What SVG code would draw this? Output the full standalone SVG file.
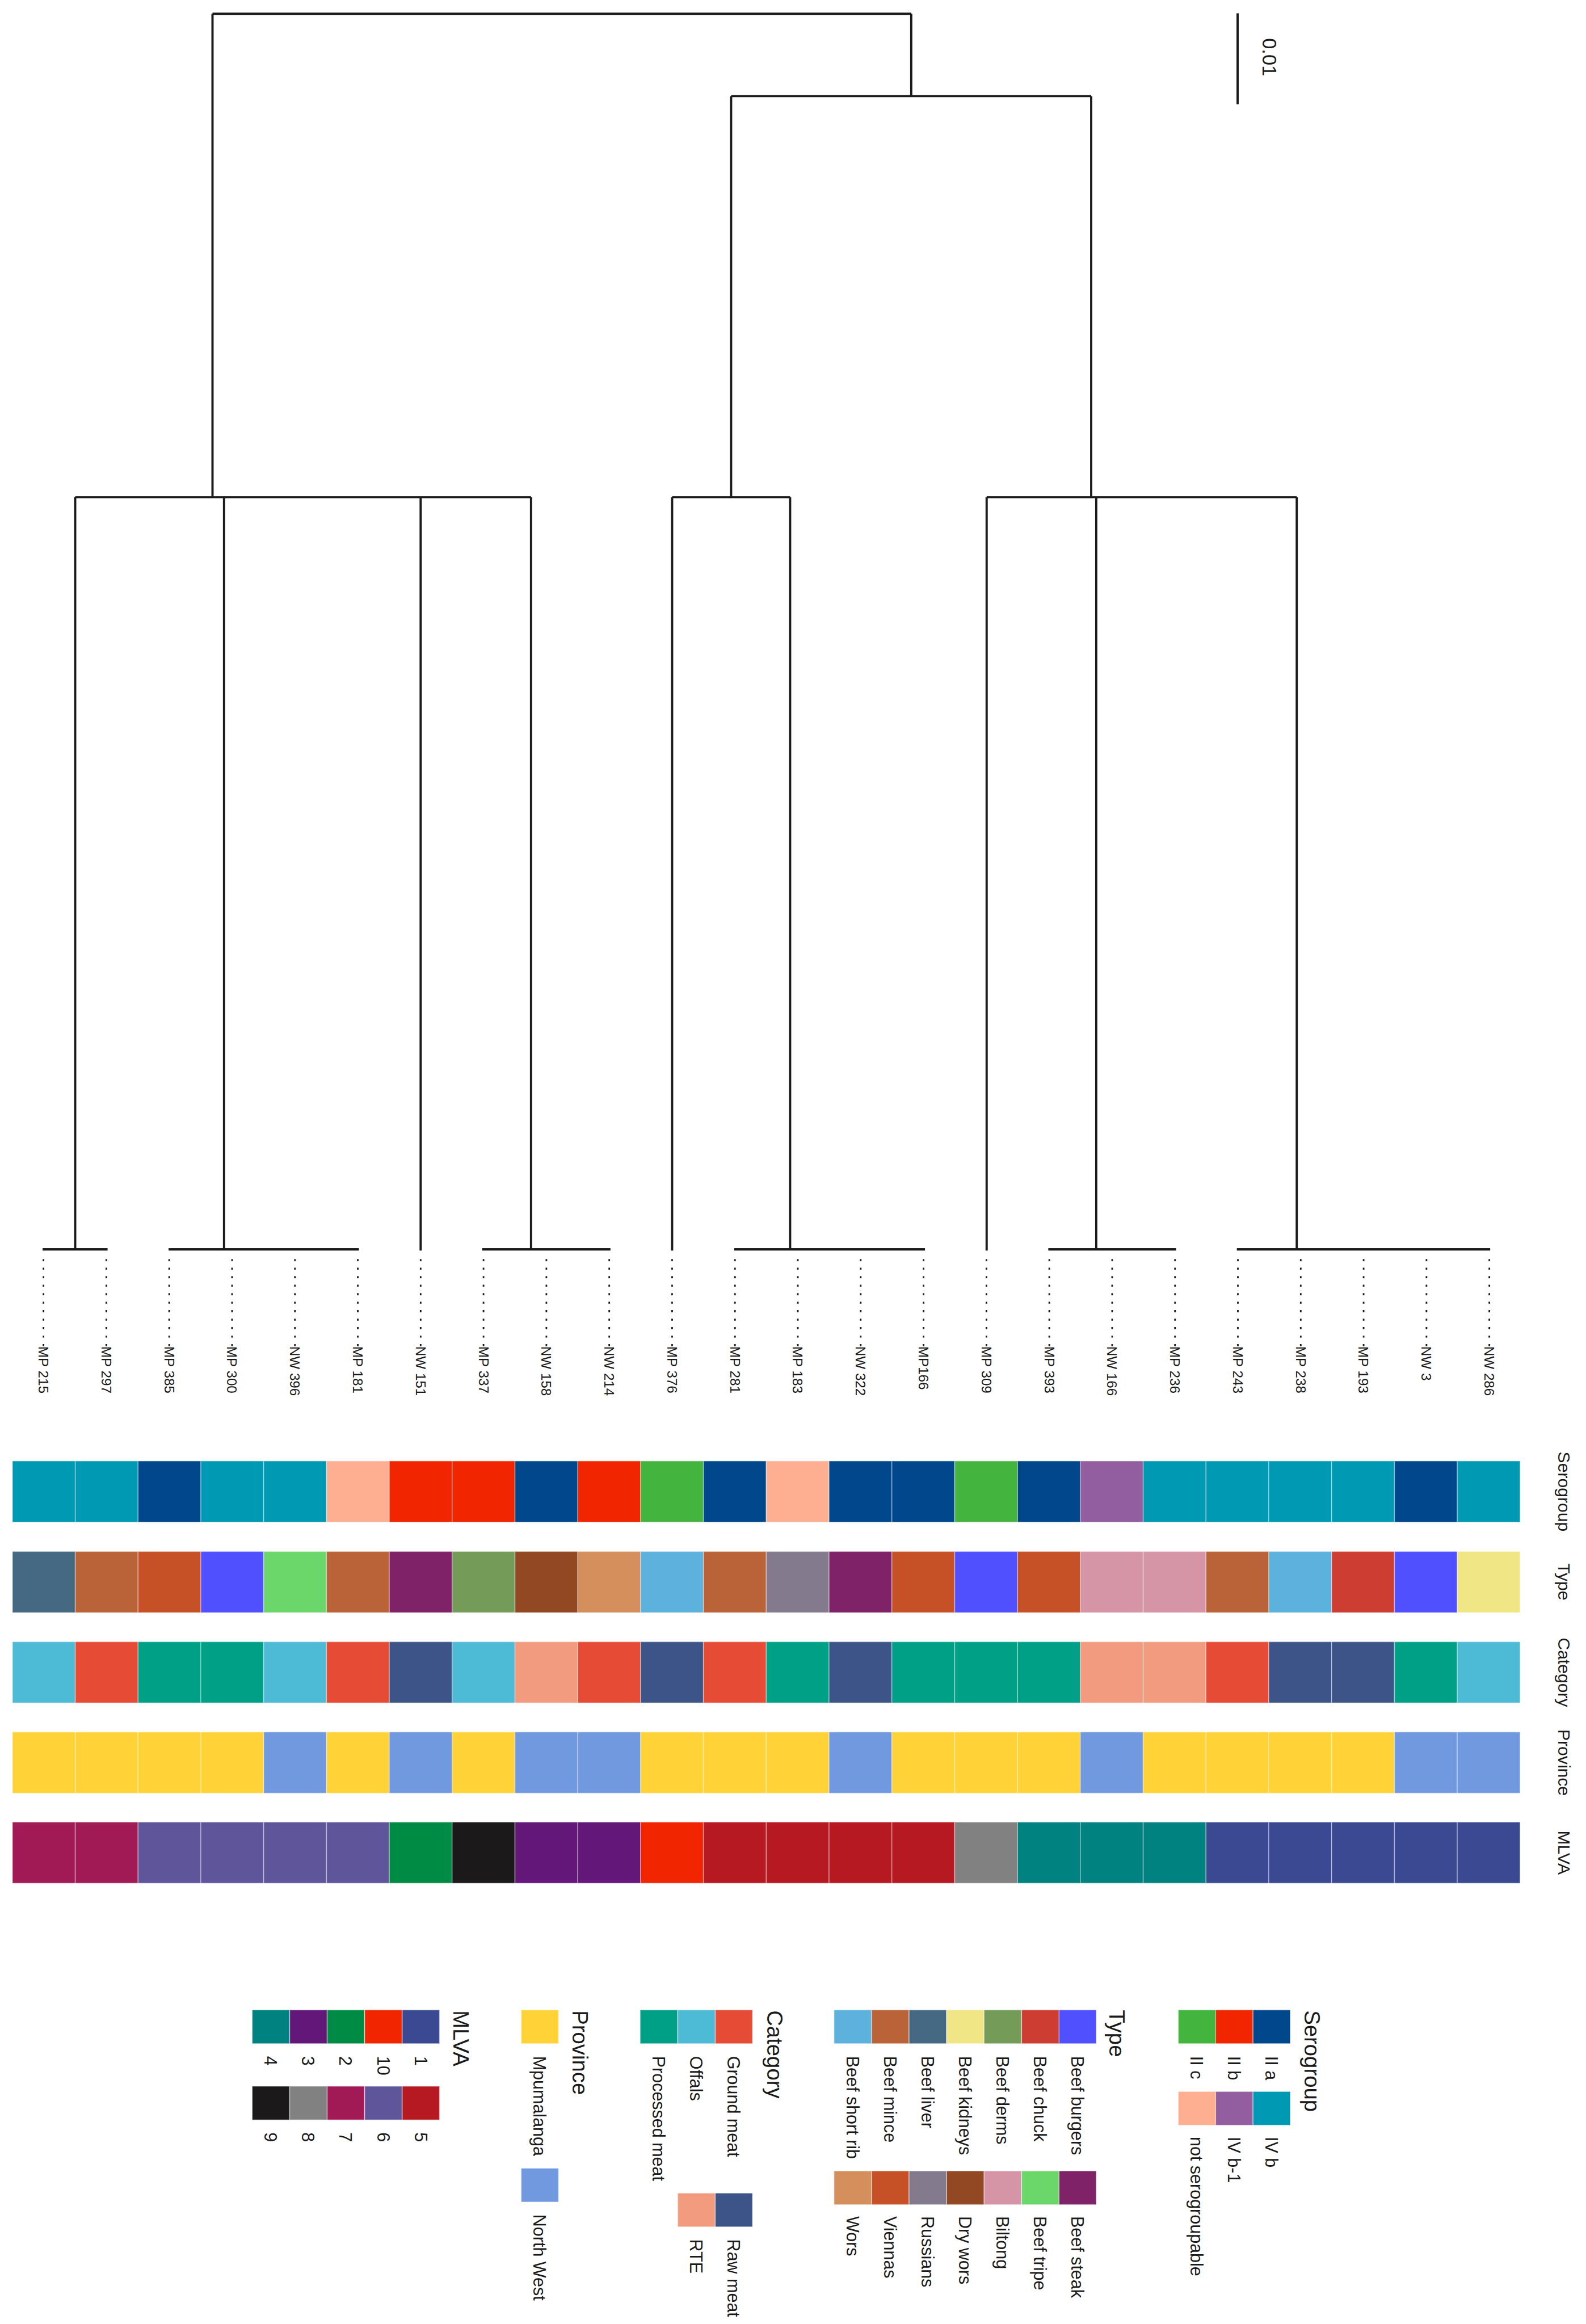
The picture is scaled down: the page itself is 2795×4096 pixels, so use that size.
<svg xmlns="http://www.w3.org/2000/svg" width="2795" height="4096" viewBox="0 0 2795 4096">
<style>
text{font-family:"Liberation Sans",Arial,sans-serif;fill:#1a1a1a}
.leaf{font-size:31px}
.row{font-size:38.5px;text-anchor:middle}
.lt{font-size:49px}
.ll{font-size:39px}
.e{fill:none;stroke:#1a1a1a;stroke-width:5}
.d{fill:none;stroke:#1a1a1a;stroke-width:3.6;stroke-dasharray:4.5 14.67}
.h rect{width:141.6px;height:138px;stroke:#fff;stroke-opacity:.4;stroke-width:2}
.s rect{width:84.2px;height:76px;stroke:#fff;stroke-opacity:.4;stroke-width:2}
.IIa{fill:#00478b}.IIb{fill:#f12500}.IIc{fill:#43b53f}.IVb{fill:#0099b4}.IVb1{fill:#925e9f}.NS{fill:#feaf92}
.burg{fill:#5050ff}.chuck{fill:#ce3d32}.derms{fill:#749b58}.kid{fill:#f0e685}.liver{fill:#466983}.mince{fill:#ba6338}.rib{fill:#5db1dd}.steak{fill:#802268}.tripe{fill:#6bd76b}.bil{fill:#d595a7}.dry{fill:#924822}.rus{fill:#837b8d}.vie{fill:#c75127}.wors{fill:#d58f5c}
.gro{fill:#e64b35}.off{fill:#4dbbd5}.pro{fill:#00a087}.raw{fill:#3c5488}.rte{fill:#f39b7f}
.mp{fill:#ffd337}.nw{fill:#7099df}
.m1{fill:#3b4992}.m2{fill:#008b45}.m3{fill:#631879}.m4{fill:#008280}.m5{fill:#b71922}.m6{fill:#5f559b}.m7{fill:#a21a55}.m8{fill:#808180}.m9{fill:#1b1919}.m10{fill:#f12500}
</style>
<g transform="scale(0.78182)">
<g id="connectors">
<path class="e" d="M479 31H2054M479 31V1120.7M2054 31V216.7M1648 216.7H2459.7M1648 216.7V1120.7M2459.7 216.7V1120.7"/>
<path class="e" d="M169.5 1120.7H1197M169.5 1120.7V2817M505 1120.7V2817M948.2 1120.7V2819M1197 1120.7V2817"/>
<path class="e" d="M1515 1120.7H1781M1515 1120.7V2819M1781 1120.7V2817"/>
<path class="e" d="M2224 1120.7H2923M2224 1120.7V2819M2471 1120.7V2817M2923 1120.7V2817"/>
<path class="e" d="M96 2816.5H242.5M380 2816.5H809M1087 2816.5H1376M1655 2816.5H2085M2363 2816.5H2651M2788 2816.5H3359"/>
<path class="d" d="M98 2838.5V3036M239.7 2838.5V3036M381.4 2838.5V3036M523.1 2838.5V3036M664.8 2838.5V3036M806.5 2838.5V3036M948.2 2838.5V3036M1089.9 2838.5V3036M1231.6 2838.5V3036M1373.3 2838.5V3036M1515 2838.5V3036M1656.7 2838.5V3036M1798.4 2838.5V3036M1940.1 2838.5V3036M2081.8 2838.5V3036M2223.5 2838.5V3036M2365.2 2838.5V3036M2506.9 2838.5V3036M2648.6 2838.5V3036M2790.3 2838.5V3036M2932 2838.5V3036M3073.7 2838.5V3036M3215.4 2838.5V3036M3357.1 2838.5V3036"/>
</g>
<g id="scale-bar">
<path class="e" d="M2789.7 30V235"/>
<text x="2846" y="86" font-size="44" transform="rotate(90 2846 86)">0.01</text>
</g>
<g id="leaves" class="leaf">
<g id="leaf-MP215"><text class="leaf" x="87" y="3035" transform="rotate(90 87 3035)">MP 215</text></g>
<g id="leaf-MP297"><text class="leaf" x="228.7" y="3035" transform="rotate(90 228.7 3035)">MP 297</text></g>
<g id="leaf-MP385"><text class="leaf" x="370.4" y="3035" transform="rotate(90 370.4 3035)">MP 385</text></g>
<g id="leaf-MP300"><text class="leaf" x="512.1" y="3035" transform="rotate(90 512.1 3035)">MP 300</text></g>
<g id="leaf-NW396"><text class="leaf" x="653.8" y="3035" transform="rotate(90 653.8 3035)">NW 396</text></g>
<g id="leaf-MP181"><text class="leaf" x="795.5" y="3035" transform="rotate(90 795.5 3035)">MP 181</text></g>
<g id="leaf-NW151"><text class="leaf" x="937.2" y="3035" transform="rotate(90 937.2 3035)">NW 151</text></g>
<g id="leaf-MP337"><text class="leaf" x="1078.9" y="3035" transform="rotate(90 1078.9 3035)">MP 337</text></g>
<g id="leaf-NW158"><text class="leaf" x="1220.6" y="3035" transform="rotate(90 1220.6 3035)">NW 158</text></g>
<g id="leaf-NW214"><text class="leaf" x="1362.3" y="3035" transform="rotate(90 1362.3 3035)">NW 214</text></g>
<g id="leaf-MP376"><text class="leaf" x="1504" y="3035" transform="rotate(90 1504 3035)">MP 376</text></g>
<g id="leaf-MP281"><text class="leaf" x="1645.7" y="3035" transform="rotate(90 1645.7 3035)">MP 281</text></g>
<g id="leaf-MP183"><text class="leaf" x="1787.4" y="3035" transform="rotate(90 1787.4 3035)">MP 183</text></g>
<g id="leaf-NW322"><text class="leaf" x="1929.1" y="3035" transform="rotate(90 1929.1 3035)">NW 322</text></g>
<g id="leaf-MP166"><text class="leaf" x="2070.8" y="3035" transform="rotate(90 2070.8 3035)">MP166</text></g>
<g id="leaf-MP309"><text class="leaf" x="2212.5" y="3035" transform="rotate(90 2212.5 3035)">MP 309</text></g>
<g id="leaf-MP393"><text class="leaf" x="2354.2" y="3035" transform="rotate(90 2354.2 3035)">MP 393</text></g>
<g id="leaf-NW166"><text class="leaf" x="2495.9" y="3035" transform="rotate(90 2495.9 3035)">NW 166</text></g>
<g id="leaf-MP236"><text class="leaf" x="2637.6" y="3035" transform="rotate(90 2637.6 3035)">MP 236</text></g>
<g id="leaf-MP243"><text class="leaf" x="2779.3" y="3035" transform="rotate(90 2779.3 3035)">MP 243</text></g>
<g id="leaf-MP238"><text class="leaf" x="2921" y="3035" transform="rotate(90 2921 3035)">MP 238</text></g>
<g id="leaf-MP193"><text class="leaf" x="3062.7" y="3035" transform="rotate(90 3062.7 3035)">MP 193</text></g>
<g id="leaf-NW3"><text class="leaf" x="3204.4" y="3035" transform="rotate(90 3204.4 3035)">NW 3</text></g>
<g id="leaf-NW286"><text class="leaf" x="3346.1" y="3035" transform="rotate(90 3346.1 3035)">NW 286</text></g>
</g>
<g id="row-serogroup" class="h">
<rect class="IVb" x="28" y="3293.5"/><rect class="IVb" x="169.6" y="3293.5"/><rect class="IIa" x="311.2" y="3293.5"/><rect class="IVb" x="452.8" y="3293.5"/><rect class="IVb" x="594.4" y="3293.5"/><rect class="NS" x="736" y="3293.5"/><rect class="IIb" x="877.6" y="3293.5"/><rect class="IIb" x="1019.2" y="3293.5"/><rect class="IIa" x="1160.8" y="3293.5"/><rect class="IIb" x="1302.4" y="3293.5"/><rect class="IIc" x="1444" y="3293.5"/><rect class="IIa" x="1585.6" y="3293.5"/><rect class="NS" x="1727.2" y="3293.5"/><rect class="IIa" x="1868.8" y="3293.5"/><rect class="IIa" x="2010.4" y="3293.5"/><rect class="IIc" x="2152" y="3293.5"/><rect class="IIa" x="2293.6" y="3293.5"/><rect class="IVb1" x="2435.2" y="3293.5"/><rect class="IVb" x="2576.8" y="3293.5"/><rect class="IVb" x="2718.4" y="3293.5"/><rect class="IVb" x="2860" y="3293.5"/><rect class="IVb" x="3001.6" y="3293.5"/><rect class="IIa" x="3143.2" y="3293.5"/><rect class="IVb" x="3284.8" y="3293.5"/>
<text class="row" x="3512" y="3362.5" transform="rotate(90 3512 3362.5)">Serogroup</text>
</g>
<g id="row-type" class="h">
<rect class="liver" x="28" y="3497.5"/><rect class="mince" x="169.6" y="3497.5"/><rect class="vie" x="311.2" y="3497.5"/><rect class="burg" x="452.8" y="3497.5"/><rect class="tripe" x="594.4" y="3497.5"/><rect class="mince" x="736" y="3497.5"/><rect class="steak" x="877.6" y="3497.5"/><rect class="derms" x="1019.2" y="3497.5"/><rect class="dry" x="1160.8" y="3497.5"/><rect class="wors" x="1302.4" y="3497.5"/><rect class="rib" x="1444" y="3497.5"/><rect class="mince" x="1585.6" y="3497.5"/><rect class="rus" x="1727.2" y="3497.5"/><rect class="steak" x="1868.8" y="3497.5"/><rect class="vie" x="2010.4" y="3497.5"/><rect class="burg" x="2152" y="3497.5"/><rect class="vie" x="2293.6" y="3497.5"/><rect class="bil" x="2435.2" y="3497.5"/><rect class="bil" x="2576.8" y="3497.5"/><rect class="mince" x="2718.4" y="3497.5"/><rect class="rib" x="2860" y="3497.5"/><rect class="chuck" x="3001.6" y="3497.5"/><rect class="burg" x="3143.2" y="3497.5"/><rect class="kid" x="3284.8" y="3497.5"/>
<text class="row" x="3512" y="3566" transform="rotate(90 3512 3566)">Type</text>
</g>
<g id="row-category" class="h">
<rect class="off" x="28" y="3701"/><rect class="gro" x="169.6" y="3701"/><rect class="pro" x="311.2" y="3701"/><rect class="pro" x="452.8" y="3701"/><rect class="off" x="594.4" y="3701"/><rect class="gro" x="736" y="3701"/><rect class="raw" x="877.6" y="3701"/><rect class="off" x="1019.2" y="3701"/><rect class="rte" x="1160.8" y="3701"/><rect class="gro" x="1302.4" y="3701"/><rect class="raw" x="1444" y="3701"/><rect class="gro" x="1585.6" y="3701"/><rect class="pro" x="1727.2" y="3701"/><rect class="raw" x="1868.8" y="3701"/><rect class="pro" x="2010.4" y="3701"/><rect class="pro" x="2152" y="3701"/><rect class="pro" x="2293.6" y="3701"/><rect class="rte" x="2435.2" y="3701"/><rect class="rte" x="2576.8" y="3701"/><rect class="gro" x="2718.4" y="3701"/><rect class="raw" x="2860" y="3701"/><rect class="raw" x="3001.6" y="3701"/><rect class="pro" x="3143.2" y="3701"/><rect class="off" x="3284.8" y="3701"/>
<text class="row" x="3512" y="3770" transform="rotate(90 3512 3770)">Category</text>
</g>
<g id="row-province" class="h">
<rect class="mp" x="28" y="3904.5"/><rect class="mp" x="169.6" y="3904.5"/><rect class="mp" x="311.2" y="3904.5"/><rect class="mp" x="452.8" y="3904.5"/><rect class="nw" x="594.4" y="3904.5"/><rect class="mp" x="736" y="3904.5"/><rect class="nw" x="877.6" y="3904.5"/><rect class="mp" x="1019.2" y="3904.5"/><rect class="nw" x="1160.8" y="3904.5"/><rect class="nw" x="1302.4" y="3904.5"/><rect class="mp" x="1444" y="3904.5"/><rect class="mp" x="1585.6" y="3904.5"/><rect class="mp" x="1727.2" y="3904.5"/><rect class="nw" x="1868.8" y="3904.5"/><rect class="mp" x="2010.4" y="3904.5"/><rect class="mp" x="2152" y="3904.5"/><rect class="mp" x="2293.6" y="3904.5"/><rect class="nw" x="2435.2" y="3904.5"/><rect class="mp" x="2576.8" y="3904.5"/><rect class="mp" x="2718.4" y="3904.5"/><rect class="mp" x="2860" y="3904.5"/><rect class="mp" x="3001.6" y="3904.5"/><rect class="nw" x="3143.2" y="3904.5"/><rect class="nw" x="3284.8" y="3904.5"/>
<text class="row" x="3512" y="3973.5" transform="rotate(90 3512 3973.5)">Province</text>
</g>
<g id="row-mlva" class="h">
<rect class="m7" x="28" y="4107.5"/><rect class="m7" x="169.6" y="4107.5"/><rect class="m6" x="311.2" y="4107.5"/><rect class="m6" x="452.8" y="4107.5"/><rect class="m6" x="594.4" y="4107.5"/><rect class="m6" x="736" y="4107.5"/><rect class="m2" x="877.6" y="4107.5"/><rect class="m9" x="1019.2" y="4107.5"/><rect class="m3" x="1160.8" y="4107.5"/><rect class="m3" x="1302.4" y="4107.5"/><rect class="m10" x="1444" y="4107.5"/><rect class="m5" x="1585.6" y="4107.5"/><rect class="m5" x="1727.2" y="4107.5"/><rect class="m5" x="1868.8" y="4107.5"/><rect class="m5" x="2010.4" y="4107.5"/><rect class="m8" x="2152" y="4107.5"/><rect class="m4" x="2293.6" y="4107.5"/><rect class="m4" x="2435.2" y="4107.5"/><rect class="m4" x="2576.8" y="4107.5"/><rect class="m1" x="2718.4" y="4107.5"/><rect class="m1" x="2860" y="4107.5"/><rect class="m1" x="3001.6" y="4107.5"/><rect class="m1" x="3143.2" y="4107.5"/><rect class="m1" x="3284.8" y="4107.5"/>
<text class="row" x="3512" y="4176.5" transform="rotate(90 3512 4176.5)">MLVA</text>
</g>
<g id="legend-mlva" class="s">
<text class="lt" x="1022" y="4532" transform="rotate(90 1022 4532)">MLVA</text>
<rect class="m1" x="906.5" y="4531"/><rect class="m10" x="822" y="4531"/><rect class="m2" x="737.3" y="4531"/><rect class="m3" x="653" y="4531"/><rect class="m4" x="568.5" y="4531"/>
<text class="ll" x="934.6" y="4635" transform="rotate(90 934.6 4635)">1</text><text class="ll" x="850" y="4635" transform="rotate(90 850 4635)">10</text><text class="ll" x="765.4" y="4635" transform="rotate(90 765.4 4635)">2</text><text class="ll" x="681" y="4635" transform="rotate(90 681 4635)">3</text><text class="ll" x="596.3" y="4635" transform="rotate(90 596.3 4635)">4</text>
<rect class="m5" x="906.5" y="4703"/><rect class="m6" x="822" y="4703"/><rect class="m7" x="737.3" y="4703"/><rect class="m8" x="653" y="4703"/><rect class="m9" x="568.5" y="4703"/>
<text class="ll" x="934.6" y="4807" transform="rotate(90 934.6 4807)">5</text><text class="ll" x="850" y="4807" transform="rotate(90 850 4807)">6</text><text class="ll" x="765.4" y="4807" transform="rotate(90 765.4 4807)">7</text><text class="ll" x="681" y="4807" transform="rotate(90 681 4807)">8</text><text class="ll" x="596.3" y="4807" transform="rotate(90 596.3 4807)">9</text>
</g>
<g id="legend-province" class="s">
<text class="lt" x="1290" y="4532" transform="rotate(90 1290 4532)">Province</text>
<rect class="mp" x="1174.8" y="4531"/><rect class="nw" x="1174.8" y="4888"/>
<text class="ll" x="1202.8" y="4635" transform="rotate(90 1202.8 4635)">Mpumalanga</text><text class="ll" x="1202.8" y="4992" transform="rotate(90 1202.8 4992)">North West</text>
</g>
<g id="legend-category" class="s">
<text class="lt" x="1729" y="4532" transform="rotate(90 1729 4532)">Category</text>
<rect class="gro" x="1612" y="4531"/><rect class="off" x="1527.7" y="4531"/><rect class="pro" x="1443" y="4531"/>
<text class="ll" x="1640" y="4635" transform="rotate(90 1640 4635)">Ground meat</text><text class="ll" x="1555.7" y="4635" transform="rotate(90 1555.7 4635)">Offals</text><text class="ll" x="1471" y="4635" transform="rotate(90 1471 4635)">Processed meat</text>
<rect class="raw" x="1612" y="4944"/><rect class="rte" x="1527.7" y="4944"/>
<text class="ll" x="1640" y="5048" transform="rotate(90 1640 5048)">Raw meat</text><text class="ll" x="1555.7" y="5048" transform="rotate(90 1555.7 5048)">RTE</text>
</g>
<g id="legend-type" class="s">
<text class="lt" x="2500" y="4531" transform="rotate(90 2500 4531)">Type</text>
<rect class="burg" x="2387" y="4531"/><rect class="chuck" x="2302.8" y="4531"/><rect class="derms" x="2218" y="4531"/><rect class="kid" x="2133.6" y="4531"/><rect class="liver" x="2049" y="4531"/><rect class="mince" x="1964.5" y="4531"/><rect class="rib" x="1880" y="4531"/>
<text class="ll" x="2415" y="4635" transform="rotate(90 2415 4635)">Beef burgers</text><text class="ll" x="2330.8" y="4635" transform="rotate(90 2330.8 4635)">Beef chuck</text><text class="ll" x="2246" y="4635" transform="rotate(90 2246 4635)">Beef derms</text><text class="ll" x="2161.6" y="4635" transform="rotate(90 2161.6 4635)">Beef kidneys</text><text class="ll" x="2077" y="4635" transform="rotate(90 2077 4635)">Beef liver</text><text class="ll" x="1992.5" y="4635" transform="rotate(90 1992.5 4635)">Beef mince</text><text class="ll" x="1908" y="4635" transform="rotate(90 1908 4635)">Beef short rib</text>
<rect class="steak" x="2387" y="4894"/><rect class="tripe" x="2302.8" y="4894"/><rect class="bil" x="2218" y="4894"/><rect class="dry" x="2133.6" y="4894"/><rect class="rus" x="2049" y="4894"/><rect class="vie" x="1964.5" y="4894"/><rect class="wors" x="1880" y="4894"/>
<text class="ll" x="2415" y="4996" transform="rotate(90 2415 4996)">Beef steak</text><text class="ll" x="2330.8" y="4996" transform="rotate(90 2330.8 4996)">Beef tripe</text><text class="ll" x="2246" y="4996" transform="rotate(90 2246 4996)">Biltong</text><text class="ll" x="2161.6" y="4996" transform="rotate(90 2161.6 4996)">Dry wors</text><text class="ll" x="2077" y="4996" transform="rotate(90 2077 4996)">Russians</text><text class="ll" x="1992.5" y="4996" transform="rotate(90 1992.5 4996)">Viennas</text><text class="ll" x="1908" y="4996" transform="rotate(90 1908 4996)">Wors</text>
</g>
<g id="legend-serogroup" class="s">
<text class="lt" x="2941" y="4532" transform="rotate(90 2941 4532)">Serogroup</text>
<rect class="IIa" x="2824.3" y="4531"/><rect class="IIb" x="2739.8" y="4531"/><rect class="IIc" x="2656" y="4531"/>
<text class="ll" x="2852.3" y="4635" transform="rotate(90 2852.3 4635)">II a</text><text class="ll" x="2767.8" y="4635" transform="rotate(90 2767.8 4635)">II b</text><text class="ll" x="2684" y="4635" transform="rotate(90 2684 4635)">II c</text>
<rect class="IVb" x="2824.3" y="4715"/><rect class="IVb1" x="2739.8" y="4715"/><rect class="NS" x="2656" y="4715"/>
<text class="ll" x="2852.3" y="4817" transform="rotate(90 2852.3 4817)">IV b</text><text class="ll" x="2767.8" y="4817" transform="rotate(90 2767.8 4817)">IV b-1</text><text class="ll" x="2684" y="4817" transform="rotate(90 2684 4817)">not serogroupable</text>
</g>
</g>
</svg>
